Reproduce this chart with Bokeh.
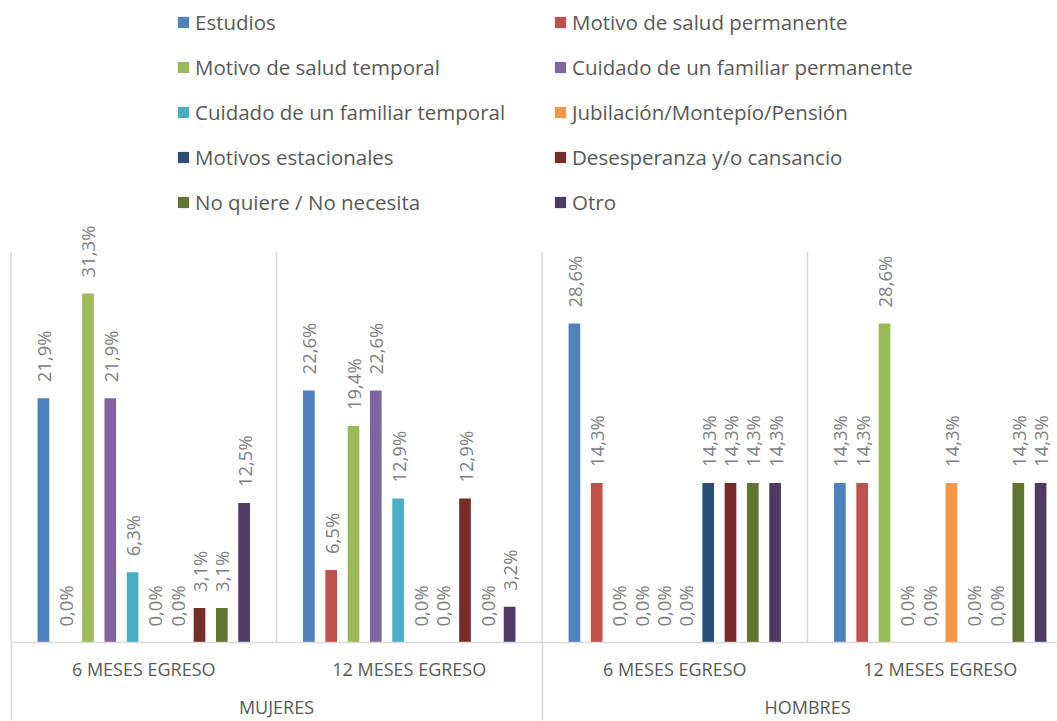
import math
from bokeh.plotting import figure
from bokeh.models import (ColumnDataSource, Range1d, LinearAxis, FixedTicker,
                          Legend, LegendItem)
from bokeh.core.properties import value
from bokeh.embed import file_html
from bokeh.resources import INLINE

# ---------------- data ----------------
groups = ["MUJERES", "HOMBRES"]
periods = ["6 MESES EGRESO", "12 MESES EGRESO"]
series = [
    "Estudios",
    "Motivo de salud permanente",
    "Motivo de salud temporal",
    "Cuidado de un familiar permanente",
    "Cuidado de un familiar temporal",
    "Jubilación/Montepío/Pensión",
    "Motivos estacionales",
    "Desesperanza y/o cansancio",
    "No quiere / No necesita",
    "Otro",
]
colors = ["#4F81BD", "#C0504D", "#9BBB59", "#8064A2", "#4BACC6",
          "#F79646", "#2C4D75", "#772C2A", "#5F7530", "#4D3B62"]

mujeres_6 = [21.9, 0.0, 31.3, 21.9, 6.3, 0.0, 0.0, 3.1, 3.1, 12.5]
mujeres_12 = [22.6, 6.5, 19.4, 22.6, 12.9, 0.0, 0.0, 12.9, 0.0, 3.2]
hombres_6 = [28.6, 14.3, 0.0, 0.0, 0.0, 0.0, 14.3, 14.3, 14.3, 14.3]
hombres_12 = [14.3, 14.3, 28.6, 0.0, 0.0, 14.3, 0.0, 0.0, 14.3, 14.3]
blocks = [mujeres_6, mujeres_12, hombres_6, hombres_12]

# ---------------- layout constants ----------------
FONT = "Open Sans"
PITCH = 0.084      # distance between bars inside a category (category = 1 unit)
BAR_W = 0.044
W, H = 1057, 721
BOTTOM = 78        # px for the two category axes
PX_PER_UNIT = 265.5
X0 = -10.5 / PX_PER_UNIT
X1 = X0 + W / PX_PER_UNIT
Y_TOP = 35.0                     # value axis maximum
FRAME_H = H - BOTTOM             # frame spans up to figure top
Y_END = Y_TOP * FRAME_H / 391.0  # plot area for 0..35 is 391px tall

p = figure(width=W, height=H, output_backend="svg", toolbar_location=None,
           x_range=Range1d(X0, X1), y_range=Range1d(0, Y_END),
           x_axis_location=None, y_axis_location=None,
           min_border_left=0, min_border_right=0,
           min_border_top=0, min_border_bottom=BOTTOM)
p.outline_line_color = None
p.xgrid.visible = False
p.ygrid.visible = False
p.background_fill_color = "white"
p.border_fill_color = "white"

# separators inside the plot area (0..35)
sep_x = [0, 1, 2, 3]
p.segment(x0=sep_x, y0=[0] * 4, x1=sep_x, y1=[Y_TOP] * 4,
          line_color="#d9d9d9", line_width=1.5)

lab_x, lab_y, lab_t = [], [], []
items = []
for i, name in enumerate(series):
    xs, tops = [], []
    for c, blk in enumerate(blocks):
        x = c + 0.5 + (i - 4.5) * PITCH
        xs.append(x)
        tops.append(blk[i])
        lab_x.append(x)
        lab_y.append(blk[i])
        lab_t.append(f"{blk[i]:.1f}".replace(".", ",") + "%")
    src = ColumnDataSource(dict(x=xs, top=tops))
    r = p.vbar(x="x", top="top", bottom=0, width=BAR_W, source=src,
               fill_color=colors[i], line_color=None)
    items.append(LegendItem(label=name, renderers=[r]))

lsrc = ColumnDataSource(dict(x=lab_x, y=lab_y, t=lab_t))
p.text(x="x", y="y", text="t", source=lsrc, angle=math.pi / 2,
       text_align="left", text_baseline="middle", y_offset=-16,
       text_font=value(FONT), text_font_size=value("18.5px"), text_color="#808080")

# axes
ax1 = LinearAxis(ticker=FixedTicker(ticks=[0.5, 1.5, 2.5, 3.5], minor_ticks=[0, 2]),
                 bounds=(0, X1))
ax1.major_label_overrides = {0.5: periods[0], 1.5: periods[1], 2.5: periods[0], 3.5: periods[1]}
ax1.axis_line_color = "#d9d9d9"
ax1.axis_line_width = 1.5
ax1.major_tick_out = 0
ax1.major_tick_in = 0
ax1.minor_tick_in = 0
ax1.minor_tick_out = BOTTOM
ax1.minor_tick_line_color = "#d9d9d9"
ax1.minor_tick_line_width = 1.5
ax1.major_label_standoff = 14 - BOTTOM
ax1.major_label_text_font = FONT
ax1.major_label_text_font_size = "18px"
ax1.major_label_text_color = "#595959"
p.add_layout(ax1, "below")

ax2 = LinearAxis(ticker=FixedTicker(ticks=[1, 3], minor_ticks=[]))
ax2.major_label_overrides = {1: groups[0], 3: groups[1]}
ax2.axis_line_color = None
ax2.major_tick_line_color = None
ax2.minor_tick_line_color = None
ax2.major_tick_out = 0
ax2.major_tick_in = 0
ax2.minor_tick_out = 0
ax2.minor_tick_in = 0
ax2.major_label_standoff = 11
ax2.major_label_text_font = FONT
ax2.major_label_text_font_size = "18px"
ax2.major_label_text_color = "#595959"
p.add_layout(ax2, "below")

legend = Legend(items=items, location=(176, 425), orientation="horizontal", ncols=2,
                glyph_width=14, glyph_height=14, label_standoff=5,
                label_height=30, label_width=343, spacing=15, padding=0, margin=0,
                label_text_font=FONT, label_text_font_size="20.5px",
                label_text_color="#595959",
                border_line_color=None, background_fill_alpha=0)
p.add_layout(legend, "center")

open("out.html", "w").write(file_html(p, INLINE))
